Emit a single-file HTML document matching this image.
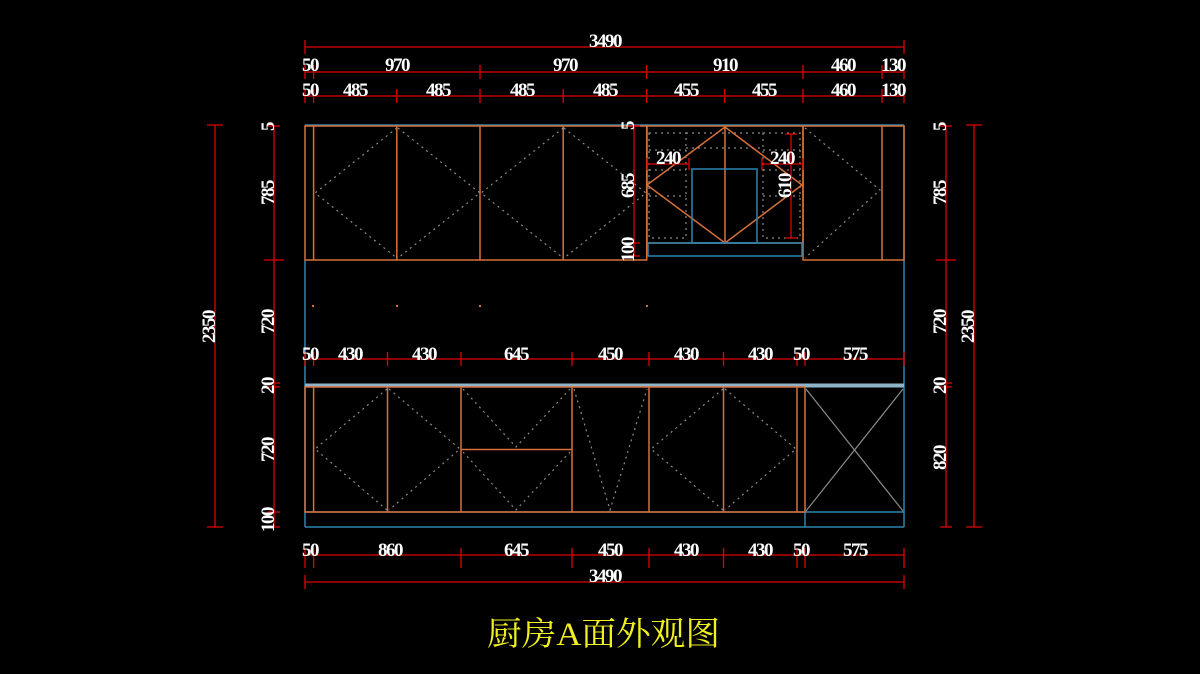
<!DOCTYPE html>
<html><head><meta charset="utf-8"><style>
html,body{margin:0;padding:0;background:#000;}
svg{display:block}
.t{font-family:"Liberation Serif",serif;font-weight:bold;font-size:19px;letter-spacing:-1.5px;fill:#fff;text-anchor:middle}
.r{stroke:#e00000;stroke-width:1.3;fill:none}
.o{stroke:#d9703a;stroke-width:1.5;fill:none}
.b{stroke:#2d86b0;stroke-width:1.5;fill:none}
.d{stroke:#8a8a8a;stroke-width:1.2;stroke-dasharray:2 4;fill:none}
</style></head><body>
<svg width="1200" height="674" viewBox="0 0 1200 674" xmlns="http://www.w3.org/2000/svg">
<rect width="1200" height="674" fill="#000"/>

<g class="r">
<line x1="305" y1="47" x2="904" y2="47"/>
<line x1="305" y1="40" x2="305" y2="54"/><line x1="904" y1="40" x2="904" y2="54"/>
<line x1="305" y1="72" x2="904" y2="72"/>
<line x1="305" y1="96" x2="904" y2="96"/>
</g>
<g class="r">
<path d="M305 65v14M313.6 65v14M480 65v14M646.7 65v14M803 65v14M882 65v14M904 65v14"/>
<path d="M305 89v14M313.6 89v14M396.8 89v14M480 89v14M563.2 89v14M646.7 89v14M724.7 89v14M803 89v14M882 89v14M904 89v14"/>
</g>
<text class="t" x="605" y="47">3490</text>
<text class="t" x="310" y="71">50</text><text class="t" x="397" y="71">970</text><text class="t" x="565" y="71">970</text><text class="t" x="725" y="71">910</text><text class="t" x="843" y="71">460</text><text class="t" x="893" y="71">130</text>
<text class="t" x="310" y="96">50</text><text class="t" x="355" y="96">485</text><text class="t" x="438" y="96">485</text><text class="t" x="522" y="96">485</text><text class="t" x="605" y="96">485</text><text class="t" x="686" y="96">455</text><text class="t" x="764" y="96">455</text><text class="t" x="843" y="96">460</text><text class="t" x="893" y="96">130</text>

<g class="b">
<line x1="305" y1="125" x2="904" y2="125"/>
<line x1="904" y1="125" x2="904" y2="527"/>
<line x1="305" y1="260" x2="305" y2="527"/>
<line x1="305" y1="527" x2="904" y2="527"/>
<line x1="305" y1="512" x2="904" y2="512"/>
<line x1="805" y1="512" x2="805" y2="527"/>
</g>
<rect x="305" y="383.5" width="599" height="4" fill="#8fb4c8"/>

<g class="o">
<rect x="305" y="126" width="341.7" height="134"/>
<path d="M313.6 126v134M396.8 126v134M480 126v134M563.2 126v134"/>
<rect x="803" y="126" width="101" height="134"/>
<path d="M882 126v134"/>
</g>
<g class="d">
<path d="M396.8 128L315 193L396.8 258"/>
<path d="M398 128L480 193L398 258"/>
<path d="M563.2 128L481 193L563.2 258"/>
<path d="M564 128L646 193L564 258"/>
<path d="M805 128L880 190L805 258"/>
</g>

<g class="d">
<rect x="649" y="133" width="37" height="105"/>
<path d="M649 170h37M649 196h37M649 150h37"/>
<rect x="763" y="133" width="37" height="105"/>
<path d="M763 170h37M763 196h37M763 150h37"/>
<path d="M686 133h77M686 148h77"/>
</g>
<g class="o">
<rect x="647" y="126" width="156" height="117"/>
<path d="M725 127L647 185L725 243L802 185Z"/>
<path d="M725 127V243"/>
</g>
<rect class="b" x="692" y="169" width="65" height="74"/>
<rect class="b" x="648" y="243" width="154" height="13"/>
<g class="r">
<path d="M647 164h42M647 158v12M689 158v12"/>
<path d="M762 164h41M762 158v12M803 158v12"/>
<path d="M791 134v104M785 134h12M785 238h12"/>
<path d="M634 126v130M628 126h12M628 243h12M628 256h12"/>
</g>
<text class="t" x="668" y="164">240</text>
<text class="t" x="782" y="164">240</text>
<text class="t" transform="translate(791,186) rotate(-90)">610</text>
<text class="t" transform="translate(634,186) rotate(-90)">685</text>
<text class="t" transform="translate(634,250) rotate(-90)">100</text>
<text class="t" transform="translate(634,126) rotate(-90)">5</text>

<g fill="#d9703a"><rect x="312" y="305" width="2" height="2"/><rect x="396" y="305" width="2" height="2"/><rect x="479" y="305" width="2" height="2"/><rect x="646" y="305" width="2" height="2"/></g>

<g class="r">
<line x1="305" y1="359" x2="904" y2="359"/>
<path d="M305 352v14M313.6 352v14M387.5 352v14M461 352v14M572 352v14M649 352v14M723.5 352v14M797 352v14M805 352v14M904 352v14"/>
</g>
<text class="t" x="310" y="360">50</text><text class="t" x="350" y="360">430</text><text class="t" x="424" y="360">430</text><text class="t" x="516" y="360">645</text><text class="t" x="610" y="360">450</text><text class="t" x="686" y="360">430</text><text class="t" x="760" y="360">430</text><text class="t" x="801" y="360">50</text><text class="t" x="855" y="360">575</text>

<g class="o">
<rect x="305" y="387" width="500" height="125"/>
<path d="M313.6 387v125M387.5 387v125M461 387v125M572 387v125M649 387v125M723.5 387v125M797 387v125"/>
<path d="M461 449.5h111"/>
</g>
<g class="d">
<path d="M387 389L315 449L387 510"/>
<path d="M389 389L460 449L389 510"/>
<path d="M463 389L516 447L570 389"/>
<path d="M463 452L516 510L570 452"/>
<path d="M574 389L610 510L647 389"/>
<path d="M723 389L651 449L723 510"/>
<path d="M725 389L796 449L725 510"/>
</g>
<path d="M806 389L903 511M903 389L806 511" stroke="#8a8a8a" stroke-width="1.2" fill="none"/>

<g class="r">
<line x1="305" y1="555" x2="904" y2="555"/>
<path d="M305 548v20M313.6 548v20M461 548v20M572 548v20M649 548v20M723.5 548v20M797 548v20M805 548v20M904 548v20"/>
<line x1="305" y1="582" x2="904" y2="582"/>
<path d="M305 575v14M904 575v14"/>
</g>
<text class="t" x="310" y="556">50</text><text class="t" x="390" y="556">860</text><text class="t" x="516" y="556">645</text><text class="t" x="610" y="556">450</text><text class="t" x="686" y="556">430</text><text class="t" x="760" y="556">430</text><text class="t" x="801" y="556">50</text><text class="t" x="855" y="556">575</text>
<text class="t" x="605" y="582">3490</text>

<g class="r">
<path d="M215 125v402M207 125h16M207 527h16"/>
<path d="M274 125v402M268 126h12M264 260h20M268 383h12M268 387h12M268 512h12M268 527h12"/>
<path d="M946 125v402M940 126h12M936 260h20M940 383h12M940 387h12M940 527h12"/>
<path d="M974 125v402M966 125h16M966 527h16"/>
</g>
<text class="t" transform="translate(215,327) rotate(-90)">2350</text>
<text class="t" transform="translate(274,127) rotate(-90)">5</text>
<text class="t" transform="translate(274,193) rotate(-90)">785</text>
<text class="t" transform="translate(274,322) rotate(-90)">720</text>
<text class="t" transform="translate(274,386) rotate(-90)">20</text>
<text class="t" transform="translate(274,450) rotate(-90)">720</text>
<text class="t" transform="translate(274,520) rotate(-90)">100</text>
<text class="t" transform="translate(946,127) rotate(-90)">5</text>
<text class="t" transform="translate(946,193) rotate(-90)">785</text>
<text class="t" transform="translate(946,322) rotate(-90)">720</text>
<text class="t" transform="translate(946,386) rotate(-90)">20</text>
<text class="t" transform="translate(946,458) rotate(-90)">820</text>
<text class="t" transform="translate(974,327) rotate(-90)">2350</text>

<text x="487" y="645" textLength="233" lengthAdjust="spacingAndGlyphs" style="font-family:'Liberation Serif','Noto Serif CJK SC',serif;font-size:33px;fill:#f0f020">厨房A面外观图</text>
</svg>
</body></html>
